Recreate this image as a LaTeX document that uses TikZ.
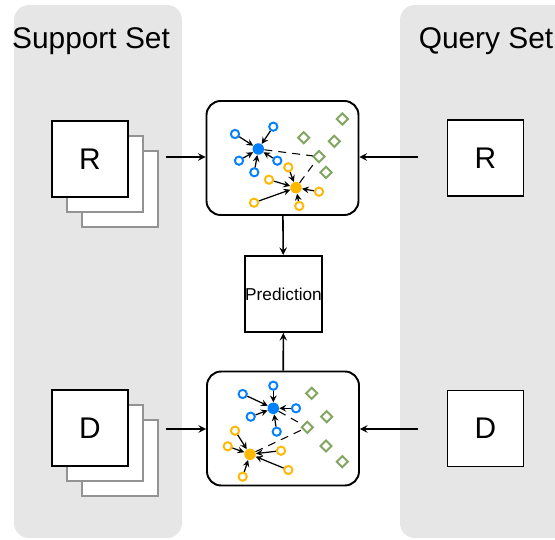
\documentclass[tikz,border=0pt]{standalone}
\usepackage{fontspec}
\setmainfont{Liberation Sans}
\usetikzlibrary{shapes.geometric, arrows}
\usetikzlibrary{positioning}

\definecolor{panelgray}{RGB}{230,230,230}
\definecolor{dotblue}{RGB}{0,128,255}
\definecolor{dotorange}{RGB}{255,184,0}
\definecolor{dotgreen}{RGB}{130,165,95}

\begin{document}
\begin{tikzpicture}[x=0.02cm,y=-0.02cm,
        card/.style={draw,line width=1.1pt,fill=white,minimum width=1.52cm,minimum height=1.52cm,font=\fontsize{17}{20}\selectfont},
        backcard/.style={draw=gray!85,line width=1.1pt,fill=white,minimum width=1.52cm,minimum height=1.52cm},
        embbox/.style={draw,line width=1.1pt,fill=white,rounded corners=8pt,minimum width=3.04cm,minimum height=2.28cm},
        bhollow/.style={circle,draw=dotblue,fill=white,line width=1.1pt,inner sep=0,minimum size=0.165cm},
        ohollow/.style={circle,draw=dotorange,fill=white,line width=1.1pt,inner sep=0,minimum size=0.165cm},
        bproto/.style={circle,fill=dotblue,inner sep=0,minimum size=0.23cm},
        oproto/.style={circle,fill=dotorange,inner sep=0,minimum size=0.23cm},
        gdiam/.style={diamond,draw=dotgreen,line width=1.1pt,inner sep=0,minimum size=0.24cm},
        pull/.style={-stealth,line width=0.7pt},
        feed/.style={-stealth,line width=0.9pt},
        dist/.style={line width=0.6pt,dash pattern=on 4.5pt off 3.5pt}]
        \useasboundingbox (0,0) rectangle (555,540);

        %% panels
        \fill[panelgray,rounded corners=8.5pt] (14,5) rectangle (182,538);
        \begin{scope}
            \clip (0,0) rectangle (555,540);
            \fill[panelgray,rounded corners=8.5pt] (400,5) rectangle (580,538);
        \end{scope}
        \node[font=\fontsize{17}{20}\selectfont] (suptitle) at (91,41) {Support Set};
        \node[font=\fontsize{17}{20}\selectfont] (qrytitle) at (486,41) {Query Set};

        %% support stacks
        \node[backcard] (sup_r3) at (120,189) {};
        \node[backcard] (sup_r2) at (105,174) {};
        \node[card] (sup_r) at (90,159) {R};
        \node[backcard] (sup_d3) at (120,458) {};
        \node[backcard] (sup_d2) at (105,443) {};
        \node[card] (sup_d) at (90,428) {D};

        %% query
        \node[card] (qry_r) at (485.5,158) {R};
        \node[card] (qry_d) at (485.5,428.5) {D};

        %% embedding boxes
        \node[embbox] (top) at (282.5,158) {};
        \node[embbox] (bot) at (283,428.5) {};
        \node[draw,line width=1.1pt,minimum width=1.54cm,minimum height=1.52cm,inner sep=0,font=\fontsize{9.8}{11}\selectfont] (pred) at (283.5,294) {Prediction};

        \coordinate (sr_out) at (166,157);
        \coordinate (sd_out) at (166,429);
        \coordinate (qr_out) at (418,157);
        \coordinate (qd_out) at (418,429);
        \draw[feed] (sr_out) -- (top.west |- sr_out);
        \draw[feed] (sd_out) -- (bot.west |- sd_out);
        \draw[feed] (qr_out) -- (top.east |- qr_out);
        \draw[feed] (qd_out) -- (bot.east |- qd_out);
        \draw[feed] (top) -- (pred);
        \draw[feed] (bot) -- (pred);

        %% top box points
        \node[bproto] (tb) at (258.3,149) {};
        \node[bhollow] (tb1) at (235,134) {};
        \node[bhollow] (tb2) at (273.3,126.7) {};
        \node[bhollow] (tb3) at (239,160.7) {};
        \node[bhollow] (tb4) at (277.3,160.7) {};
        \node[bhollow] (tb5) at (254.3,172.3) {};
        \node[oproto] (to) at (296,187.7) {};
        \node[ohollow] (to1) at (288.3,167.3) {};
        \node[ohollow] (to2) at (269,179.7) {};
        \node[ohollow] (to3) at (319,191.7) {};
        \node[ohollow] (to4) at (254,202.7) {};
        \node[ohollow] (to5) at (299.3,206) {};
        \node[gdiam] (tg1) at (342.3,119) {};
        \node[gdiam] (tg2) at (303.7,137.7) {};
        \node[gdiam] (tg3) at (334.3,141.3) {};
        \node[gdiam] (tg4) at (319,156.7) {};
        \node[gdiam] (tg5) at (326,172.3) {};
        \foreach \i in {1,...,5} {
            \draw[pull] (tb\i) -- (tb);
            \draw[pull] (to\i) -- (to);
        }
        \draw[dist] (tb) -- (tg4);
        \draw[dist] (to) -- (tg4);

        %% bottom box points
        \node[bproto] (bb) at (273.3,408.3) {};
        \node[bhollow] (bb1) at (242.7,394) {};
        \node[bhollow] (bb2) at (273.3,385.7) {};
        \node[bhollow] (bb3) at (296,408.3) {};
        \node[bhollow] (bb4) at (250.7,416.7) {};
        \node[bhollow] (bb5) at (276.7,431.7) {};
        \node[oproto] (bo) at (250,454.3) {};
        \node[ohollow] (bo1) at (235,430.7) {};
        \node[ohollow] (bo2) at (227.7,446.3) {};
        \node[ohollow] (bo3) at (281,450.7) {};
        \node[ohollow] (bo4) at (288.3,470) {};
        \node[ohollow] (bo5) at (242.7,476.7) {};
        \node[gdiam] (bg1) at (311.7,393.3) {};
        \node[gdiam] (bg2) at (326.7,416.7) {};
        \node[gdiam] (bg3) at (307.3,427.3) {};
        \node[gdiam] (bg4) at (326,446) {};
        \node[gdiam] (bg5) at (342.3,461.7) {};
        \foreach \i in {1,...,5} {
            \draw[pull] (bb\i) -- (bb);
            \draw[pull] (bo\i) -- (bo);
        }
        \draw[dist] (bb) -- (bg3);
        \draw[dist] (bo) -- (bg3);

    \end{tikzpicture}
\end{document}
